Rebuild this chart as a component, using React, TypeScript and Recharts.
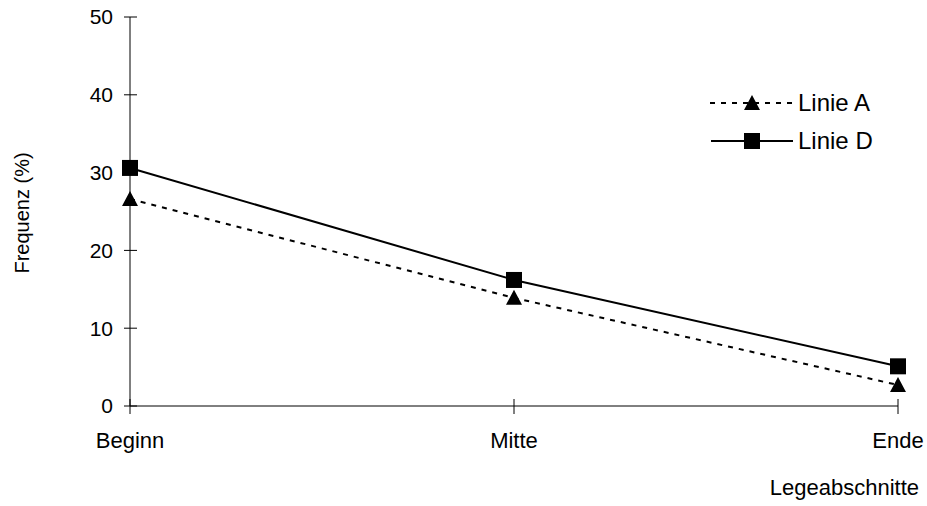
import { LineChart, Line, XAxis, YAxis, Legend } from 'recharts';

const categories = ['Beginn', 'Mitte', 'Ende'];
const linieA = [26.6, 13.9, 2.7];
const linieD = [30.6, 16.2, 5.1];
const yTicks = [0, 10, 20, 30, 40, 50];

const data = categories.map((name, i) => ({ name, a: linieA[i], d: linieD[i] }));

const FONT = 'Arial, "Liberation Sans", Helvetica, sans-serif';

const Square = ({ cx, cy }: any) => (
  <rect x={cx - 8} y={cy - 8} width={16} height={16} fill="#000" />
);

const Triangle = ({ cx, cy }: any) => (
  <polygon points={`${cx},${cy - 8} ${cx + 8},${cy + 7} ${cx - 8},${cy + 7}`} fill="#000" />
);

const XTick = ({ x, y, payload }: any) => (
  <g>
    <line x1={x} y1={y - 7} x2={x} y2={y + 8} stroke="#000" strokeWidth={1} />
    <text x={x} y={y + 42} textAnchor="middle" fontSize={22} fontFamily={FONT} fill="#000">
      {payload.value}
    </text>
  </g>
);

const YTick = ({ x, y, payload }: any) => (
  <g>
    <line x1={x - 6} y1={y} x2={x + 7} y2={y} stroke="#000" strokeWidth={1} />
    <text x={x - 17} y={y} dy="0.35em" textAnchor="end" fontSize={21} fontFamily={FONT} fill="#000">
      {payload.value}
    </text>
  </g>
);

const LegendContent = () => (
  <div style={{ fontFamily: FONT, fontSize: 24, color: '#000', lineHeight: 1 }}>
    <div style={{ display: 'flex', alignItems: 'center', height: 38 }}>
      <svg width={92} height={20}>
        <line x1={4} y1={10} x2={88} y2={10} stroke="#000" strokeWidth={2} strokeDasharray="5 6" />
        <polygon points="46,2 54,17 38,17" fill="#000" />
      </svg>
      <span>Linie A</span>
    </div>
    <div style={{ display: 'flex', alignItems: 'center', height: 38 }}>
      <svg width={92} height={20}>
        <line x1={5} y1={10} x2={87} y2={10} stroke="#000" strokeWidth={2} />
        <rect x={38} y={2} width={16} height={16} fill="#000" />
      </svg>
      <span>Linie D</span>
    </div>
  </div>
);

export default function App() {
  return (
    <div style={{ position: 'absolute', left: 0, top: 0, background: '#fff' }}>
      <LineChart
        width={927}
        height={506}
        data={data}
        margin={{ top: 17, right: 29, left: 70, bottom: 70 }}
      >
        <XAxis
          dataKey="name"
          scale="point"
          padding={{ left: 0, right: 0 }}
          height={30}
          stroke="#000"
          tickLine={false}
          tickSize={0}
          tickMargin={0}
          tick={<XTick />}
          interval={0}
          label={{
            content: ({ viewBox }: any) => (
              <text
                x={viewBox.x + viewBox.width + 21}
                y={viewBox.y + 89}
                textAnchor="end"
                fontSize={22}
                fontFamily={FONT}
                fill="#000"
              >
                Legeabschnitte
              </text>
            ),
          }}
        />
        <YAxis
          width={60}
          domain={[0, 50]}
          ticks={yTicks}
          stroke="#000"
          tickLine={false}
          tickSize={0}
          tickMargin={0}
          tick={<YTick />}
          label={{
            content: () => (
              <text
                x={22}
                y={213}
                transform="rotate(-90, 22, 213)"
                textAnchor="middle"
                dy="0.35em"
                fontSize={20}
                fontFamily={FONT}
                fill="#000"
              >
                Frequenz (%)
              </text>
            ),
          }}
        />
        <Legend
          layout="horizontal"
          verticalAlign="middle"
          align="center"
          content={<LegendContent />}
          wrapperStyle={{ position: 'absolute', left: 706, top: 84, width: 200 }}
        />
        <Line
          dataKey="a"
          name="Linie A"
          stroke="#000"
          strokeWidth={2}
          strokeDasharray="5 6"
          dot={<Triangle />}
          activeDot={false}
          isAnimationActive={false}
        />
        <Line
          dataKey="d"
          name="Linie D"
          stroke="#000"
          strokeWidth={2}
          dot={<Square />}
          activeDot={false}
          isAnimationActive={false}
        />
      </LineChart>
    </div>
  );
}
